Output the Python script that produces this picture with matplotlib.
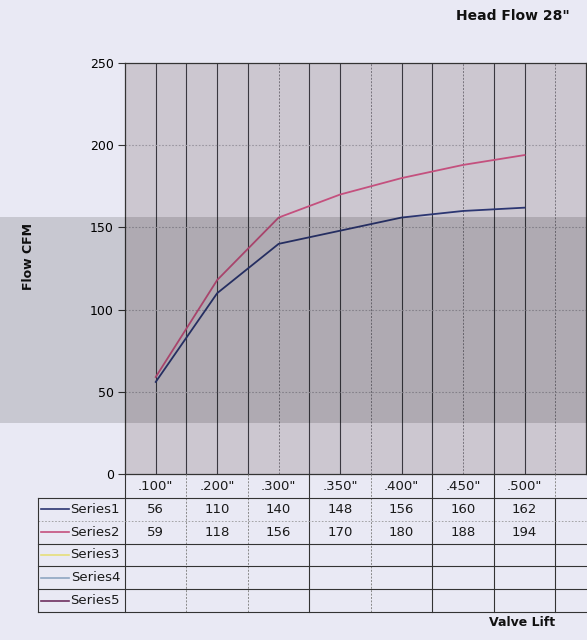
import matplotlib
matplotlib.use("Agg")
import matplotlib.pyplot as plt
from matplotlib.patches import Rectangle

# data
lifts = ['.100"', '.200"', '.300"', '.350"', '.400"', '.450"', '.500"']
series1 = [56, 110, 140, 148, 156, 160, 162]
series2 = [59, 118, 156, 170, 180, 188, 194]
names = ['Series1', 'Series2', 'Series3', 'Series4', 'Series5']
colors = ['#2c3672', '#c4507e', '#e6df7a', '#8ea6c2', '#6e3060']
yticks = [0, 50, 100, 150, 200, 250]

W, H = 587, 640
fig = plt.figure(figsize=(W / 100, H / 100), dpi=100)
fig.patch.set_facecolor('#e9e9f4')

def px(l, t, r, b):
    return [l / W, 1 - b / H, (r - l) / W, (b - t) / H]

ncat = 8  # chart has more (empty) categories cut off at the right
xmax = 7.0
ax = fig.add_axes(px(125, 63, 586, 474))
ax.set_facecolor('#ccc7d0')
ax.set_xlim(-0.5, xmax)
ax.set_ylim(0, 250)

# vertical grid at every half category; a few come out faint in the scan
faint = [5, 8, 11, 14]
for h in range(1, 15):
    xv = -0.5 + h * 0.5
    if h in faint:
        ax.axvline(xv, color='#77737c', lw=0.7, ls=(0, (2, 1.5)), zorder=1)
    else:
        ax.axvline(xv, color='#3a3840', lw=0.8, zorder=1)
for v in yticks[1:-1]:
    ax.axhline(v, color='#9a96a0', lw=0.8, ls=(0, (1.5, 1.5)), zorder=1)

x = list(range(len(lifts)))
ax.plot(x, series1, color=colors[0], lw=1.3, zorder=3)
ax.plot(x, series2, color=colors[1], lw=1.3, zorder=3)

ax.set_xticks([])
ax.set_yticks(yticks)
ax.set_yticklabels([str(v) for v in yticks], fontsize=9)
ax.tick_params(axis='y', length=5, width=0.8, color='#333333', pad=3)
for s in ['left', 'top', 'bottom', 'right']:
    ax.spines[s].set_color('#333333')
    ax.spines[s].set_linewidth(0.9)

# data table below the plot
tab = fig.add_axes(px(125, 474, 586, 612))
tab.set_xlim(-0.5, xmax)
tab.set_ylim(138, 0)
tab.axis('off')
hdr = 24
rowh = (138 - hdr) / 5.0
left_x = -0.5 - 87 / 61.5

for i, lab in enumerate(lifts):
    tab.text(i, hdr / 2 + 1, lab, ha='center', va='center', fontsize=9.5, color='#1a1a1a')

solid = [0, 3, 5, 6]
for k in range(ncat):
    xb = k - 0.5
    if k in solid:
        tab.plot([xb, xb], [0, 138], color='#333333', lw=0.8, clip_on=False)
    elif k == 7:
        tab.plot([xb, xb], [0, hdr], color='#888888', lw=0.7, ls=(0, (2, 1.5)), clip_on=False)
        tab.plot([xb, xb], [hdr, 138], color='#333333', lw=0.8, clip_on=False)
    else:
        tab.plot([xb, xb], [0, 138], color='#888888', lw=0.7, ls=(0, (2, 1.5)), clip_on=False)

for r in range(6):
    yy = hdr + r * rowh
    if r == 1:
        tab.plot([left_x, xmax], [yy, yy], color='#9a9a9a', lw=0.6, ls=(0, (2, 2)), clip_on=False)
    else:
        tab.plot([left_x, xmax], [yy, yy], color='#333333', lw=0.8, clip_on=False)
tab.plot([left_x, left_x], [hdr, 138], color='#333333', lw=0.8, clip_on=False)

for r, (nm, c) in enumerate(zip(names, colors)):
    yc = hdr + (r + 0.5) * rowh
    tab.plot([left_x + 0.05, left_x + 0.5], [yc, yc], color=c, lw=1.2, clip_on=False)
    tab.text(-0.58, yc, nm, ha='right', va='center', fontsize=9.5, color='#1a1a1a')

for r, vals in enumerate([series1, series2]):
    yc = hdr + (r + 0.5) * rowh
    for i, v in enumerate(vals):
        tab.text(i, yc, str(v), ha='center', va='center', fontsize=9.5, color='#1a1a1a')

fig.text(570 / W, 1 - 16 / H, 'Head Flow 28"', ha='right', va='center',
         fontsize=10, fontweight='bold', color='#111111')
fig.text(28 / W, 1 - 256 / H, 'Flow CFM', rotation=90, ha='center', va='center',
         fontsize=9, fontweight='bold', color='#111111')
fig.text(555 / W, 1 - 622 / H, 'Valve Lift', ha='right', va='center',
         fontsize=9, fontweight='bold', color='#111111')

# darker scan band across the middle of the page
fig.patches.append(Rectangle((0, 1 - 423 / H), 1, 206 / H, transform=fig.transFigure,
                             facecolor='black', alpha=0.14, edgecolor='none', zorder=10))

fig.savefig('out.png', dpi=100, facecolor=fig.get_facecolor())
